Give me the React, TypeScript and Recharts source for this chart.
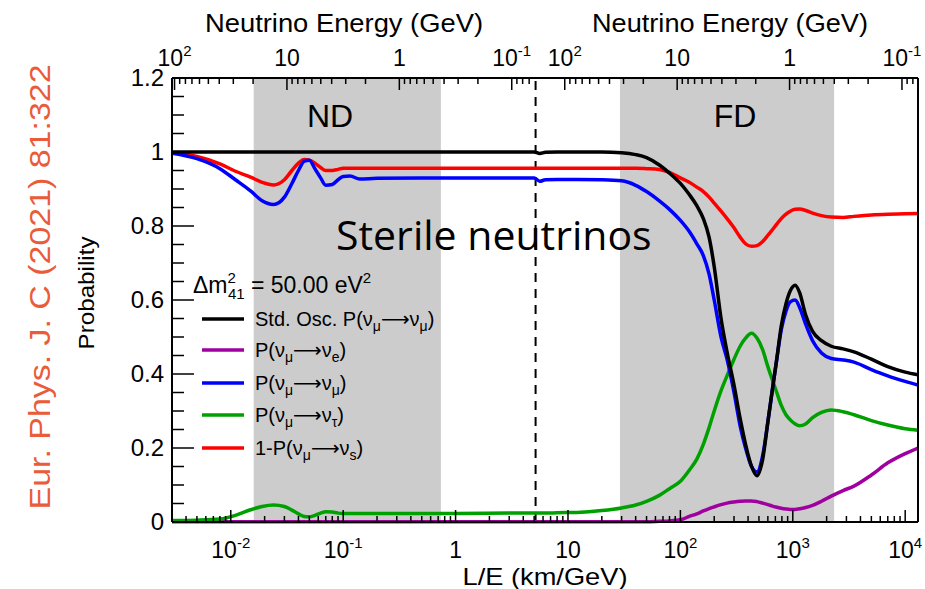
import React from 'react';
import { LineChart, Line, XAxis, YAxis, ReferenceArea, ReferenceLine } from 'recharts';

// L/E sample points (km/GeV) and the probabilities
const LE = [
  0.003, 0.005, 0.008, 0.011, 0.015, 0.019, 0.024, 0.03, 0.035, 0.04, 0.045, 0.05, 0.056, 0.063, 0.07, 0.08, 0.09,
  0.1, 0.115, 0.14, 0.2, 0.5, 1, 3, 5, 5.6, 6.3, 8, 12, 20, 30, 40, 50, 65, 80, 100, 120, 140, 160, 180, 200, 230,
  260, 300, 340, 380, 430, 480, 540, 600, 660, 720, 790, 870, 950, 1050, 1150, 1300, 1500, 1800, 2200, 2800, 3500,
  5000, 7000, 10000, 13000,
];
const stdOsc = [
  1, 1, 1, 1, 1, 1, 1, 1, 1, 1, 1, 1, 1, 1, 1, 1, 1,
  1, 1, 1, 1, 1, 1, 1, 1, 0.996, 0.999, 1, 1, 1, 0.998, 0.993, 0.985, 0.965, 0.943, 0.915, 0.885, 0.855, 0.82, 0.77, 0.69, 0.55,
  0.46, 0.37, 0.28, 0.21, 0.15, 0.125, 0.17, 0.27, 0.36, 0.44, 0.53, 0.59, 0.625, 0.64, 0.62, 0.56, 0.515, 0.49, 0.475, 0.468, 0.46,
  0.44, 0.42, 0.405, 0.398,
];
const pMuE = [
  0.001, 0.001, 0.001, 0.001, 0.001, 0.001, 0.001, 0.001, 0.001, 0.001, 0.001, 0.001, 0.001, 0.001, 0.001, 0.001, 0.001,
  0.001, 0.001, 0.001, 0.001, 0.001, 0.001, 0.001, 0.001, 0.001, 0.001, 0.001, 0.001, 0.001, 0.001, 0.001, 0.001, 0.002, 0.003, 0.006, 0.015, 0.022, 0.03, 0.036, 0.041, 0.047,
  0.051, 0.054, 0.056, 0.057, 0.057, 0.055, 0.051, 0.047, 0.043, 0.04, 0.037, 0.035, 0.034, 0.034, 0.036, 0.039, 0.045, 0.056, 0.07, 0.085, 0.097,
  0.127, 0.16, 0.185, 0.2,
];
const pMuMu = [
  0.997, 0.982, 0.955, 0.925, 0.895, 0.868, 0.858, 0.878, 0.915, 0.95, 0.975, 0.978, 0.955, 0.93, 0.91, 0.912, 0.925,
  0.934, 0.935, 0.927, 0.929, 0.93, 0.93, 0.93, 0.93, 0.921, 0.925, 0.926, 0.926, 0.925, 0.922, 0.91, 0.893, 0.868, 0.845, 0.815, 0.785, 0.752, 0.72, 0.67, 0.6, 0.5,
  0.44, 0.35, 0.26, 0.2, 0.15, 0.135, 0.18, 0.27, 0.36, 0.44, 0.52, 0.57, 0.595, 0.6, 0.58, 0.535, 0.49, 0.457, 0.442, 0.438, 0.432,
  0.412, 0.395, 0.38, 0.37,
];
const pMuTau = [
  0.004, 0.005, 0.008, 0.018, 0.033, 0.042, 0.046, 0.042, 0.032, 0.022, 0.015, 0.014, 0.018, 0.024, 0.028, 0.027, 0.024,
  0.023, 0.023, 0.023, 0.023, 0.023, 0.023, 0.024, 0.024, 0.024, 0.024, 0.025, 0.026, 0.031, 0.038, 0.046, 0.056, 0.072, 0.09, 0.11, 0.14, 0.17, 0.21, 0.255, 0.3, 0.355,
  0.395, 0.44, 0.475, 0.497, 0.51, 0.497, 0.465, 0.42, 0.383, 0.35, 0.315, 0.29, 0.276, 0.265, 0.26, 0.265, 0.282, 0.296, 0.303, 0.298, 0.29,
  0.274, 0.262, 0.252, 0.248,
];
const oneMinusPs = [
  0.998, 0.988, 0.968, 0.948, 0.932, 0.918, 0.911, 0.925, 0.95, 0.97, 0.98, 0.978, 0.97, 0.958, 0.95, 0.95, 0.953,
  0.956, 0.956, 0.956, 0.956, 0.956, 0.956, 0.956, 0.956, 0.956, 0.956, 0.956, 0.956, 0.956, 0.956, 0.956, 0.955, 0.953, 0.945, 0.93, 0.918, 0.905, 0.893, 0.878, 0.862, 0.84,
  0.82, 0.795, 0.77, 0.752, 0.745, 0.747, 0.758, 0.775, 0.79, 0.805, 0.82, 0.832, 0.84, 0.845, 0.846, 0.842, 0.835, 0.828, 0.824, 0.823, 0.826,
  0.83, 0.832, 0.833, 0.834,
];

const BOTTOM_TICKS = [
  0.003, 0.004, 0.005, 0.006, 0.007, 0.008, 0.009,
  0.01, 0.02, 0.03, 0.04, 0.05, 0.06, 0.07, 0.08, 0.09,
  0.1, 0.2, 0.3, 0.4, 0.5, 0.6, 0.7, 0.8, 0.9,
  1, 2, 3, 4, 5, 6, 7, 8, 9,
  10, 20, 30, 40, 50, 60, 70, 80, 90,
  100, 200, 300, 400, 500, 600, 700, 800, 900,
  1000, 2000, 3000, 4000, 5000, 6000, 7000, 8000, 9000,
  10000,
];
const ENERGIES = [
  100, 90, 80, 70, 60, 50, 40, 30, 20,
  10, 9, 8, 7, 6, 5, 4, 3, 2,
  1, 0.9, 0.8, 0.7, 0.6, 0.5, 0.4, 0.3, 0.2,
  0.1, 0.09, 0.08, 0.07,
];
const Y_TICKS = [
  0, 0.05, 0.1, 0.15, 0.2, 0.25, 0.3, 0.35, 0.4, 0.45, 0.5, 0.55, 0.6,
  0.65, 0.7, 0.75, 0.8, 0.85, 0.9, 0.95, 1, 1.05, 1.1, 1.15, 1.2,
];

const L_ND = 0.316; // km
const L_FD = 936; // km
const DASH = 5.15;
const X_MIN = 0.003;
const X_MAX = 13000;
const ND_BAND = [0.016, 0.74];
const FD_BAND = [29, 2330];

const data = LE.map((le, i) => ({
  le,
  std: stdOsc[i],
  mue: pMuE[i],
  mumu: pMuMu[i],
  mutau: pMuTau[i],
  ps: oneMinusPs[i],
}));

const TOP_TICKS = [
  ...ENERGIES.map((e) => L_ND / e).filter((v) => v >= X_MIN && v < DASH),
  ...ENERGIES.map((e) => L_FD / e).filter((v) => v > DASH && v <= X_MAX),
];

const FONT = 'Liberation Sans, Arial, Helvetica, sans-serif';
const isPow10 = (v: number) => {
  const e = Math.log10(v);
  return Math.abs(e - Math.round(e)) < 1e-6;
};

function PowText({ x, y, exp }: { x: number; y: number; exp: number }) {
  if (exp === 0 || exp === 1) {
    return (
      <text x={x} y={y} textAnchor="middle" fontFamily={FONT} fontSize={23} fill="#000">
        {exp === 0 ? '1' : '10'}
      </text>
    );
  }
  return (
    <text x={x} y={y} textAnchor="middle" fontFamily={FONT} fontSize={23} fill="#000">
      <tspan>10</tspan>
      <tspan dy={-10} fontSize={15}>{String(exp)}</tspan>
    </text>
  );
}

const BottomTick = (props: any) => {
  const { x, y, payload } = props;
  const major = isPow10(payload.value);
  return (
    <g>
      <line x1={x} x2={x} y1={y} y2={y - (major ? 12 : 6)} stroke="#000" strokeWidth={1.5} />
      {major && <PowText x={x} y={y + 36} exp={Math.round(Math.log10(payload.value))} />}
    </g>
  );
};

const TopTick = (props: any) => {
  const { x, y, payload } = props;
  const e = payload.value < DASH ? L_ND / payload.value : L_FD / payload.value;
  const major = isPow10(e);
  return (
    <g>
      <line x1={x} x2={x} y1={y} y2={y + (major ? 12 : 6)} stroke="#000" strokeWidth={1.5} />
      {major && <PowText x={x} y={y - 12} exp={Math.round(Math.log10(e))} />}
    </g>
  );
};

const yMajor = (v: number) => Math.abs(v * 5 - Math.round(v * 5)) < 1e-6;

const LeftTick = (props: any) => {
  const { x, y, payload } = props;
  const v = payload.value;
  const major = yMajor(v);
  const label = v === 0 ? '0' : v === 1 ? '1' : String(Math.round(v * 10) / 10);
  return (
    <g>
      <line x1={x} x2={x + (major ? 22 : 12)} y1={y} y2={y} stroke="#000" strokeWidth={1.5} />
      {major && (
        <text x={x - 8} y={y + 8} textAnchor="end" fontFamily={FONT} fontSize={24} fill="#000">
          {label}
        </text>
      )}
    </g>
  );
};

const RightTick = (props: any) => {
  const { x, y, payload } = props;
  const major = yMajor(payload.value);
  return <line x1={x} x2={x - (major ? 22 : 12)} y1={y} y2={y} stroke="#000" strokeWidth={1.5} />;
};

const LEGEND = [
  { color: '#000000', y: 319, pre: 'Std. Osc. P(ν', to: 'μ' },
  { color: '#a000a0', y: 350, pre: 'P(ν', to: 'e' },
  { color: '#0000ff', y: 383, pre: 'P(ν', to: 'μ' },
  { color: '#00a000', y: 415, pre: 'P(ν', to: 'τ' },
  { color: '#ff0000', y: 448, pre: '1-P(ν', to: 's' },
];

export default function App() {
  return (
    <div style={{ position: 'absolute', left: 0, top: 0, width: 925, height: 589, background: '#fff' }}>
      <LineChart width={925} height={589} data={data} margin={{ top: 77, right: 6, bottom: 66, left: 171 }}>
        <ReferenceArea x1={ND_BAND[0]} x2={ND_BAND[1]} fill="#cccccc" fillOpacity={1} stroke="none" ifOverflow="hidden" />
        <ReferenceArea x1={FD_BAND[0]} x2={FD_BAND[1]} fill="#cccccc" fillOpacity={1} stroke="none" ifOverflow="hidden" />
        <ReferenceLine x={DASH} stroke="#000" strokeWidth={2} strokeDasharray="9 7" />
        <XAxis
          dataKey="le"
          type="number"
          scale="log"
          domain={[X_MIN, X_MAX]}
          allowDataOverflow
          ticks={BOTTOM_TICKS}
          interval={0}
          height={1}
          tickSize={0}
          tickMargin={0}
          tickLine={false}
          axisLine={{ stroke: '#000', strokeWidth: 2 }}
          tick={BottomTick}
        />
        <XAxis
          xAxisId="top"
          orientation="top"
          dataKey="le"
          type="number"
          scale="log"
          domain={[X_MIN, X_MAX]}
          allowDataOverflow
          ticks={TOP_TICKS}
          interval={0}
          height={1}
          tickSize={0}
          tickMargin={0}
          tickLine={false}
          axisLine={{ stroke: '#000', strokeWidth: 2 }}
          tick={TopTick}
        />
        <YAxis
          type="number"
          domain={[0, 1.2]}
          ticks={Y_TICKS}
          interval={0}
          width={1}
          tickSize={0}
          tickMargin={0}
          tickLine={false}
          axisLine={{ stroke: '#000', strokeWidth: 2 }}
          tick={LeftTick}
        />
        <YAxis
          yAxisId="right"
          orientation="right"
          type="number"
          domain={[0, 1.2]}
          ticks={Y_TICKS}
          interval={0}
          width={1}
          tickSize={0}
          tickMargin={0}
          tickLine={false}
          axisLine={{ stroke: '#000', strokeWidth: 2 }}
          tick={RightTick}
        />
        <Line type="monotone" dataKey="mue" stroke="#a000a0" strokeWidth={3.5} dot={false} isAnimationActive={false} />
        <Line type="monotone" dataKey="mutau" stroke="#00a000" strokeWidth={3.5} dot={false} isAnimationActive={false} />
        <Line type="monotone" dataKey="ps" stroke="#ff0000" strokeWidth={3.5} dot={false} isAnimationActive={false} />
        <Line type="monotone" dataKey="mumu" stroke="#0000ff" strokeWidth={3.5} dot={false} isAnimationActive={false} />
        <Line type="monotone" dataKey="std" stroke="#000000" strokeWidth={3.5} dot={false} isAnimationActive={false} />
      </LineChart>

      <svg width={925} height={589} style={{ position: 'absolute', left: 0, top: 0, pointerEvents: 'none' }}>
        <g fontFamily={FONT} fill="#000">
          <text x={344} y={32} textAnchor="middle" fontSize={25} textLength={278} lengthAdjust="spacingAndGlyphs">
            Neutrino Energy (GeV)
          </text>
          <text x={730} y={32} textAnchor="middle" fontSize={25} textLength={276} lengthAdjust="spacingAndGlyphs">
            Neutrino Energy (GeV)
          </text>
          <text x={545} y={585} textAnchor="middle" fontSize={24} textLength={165} lengthAdjust="spacingAndGlyphs">
            L/E (km/GeV)
          </text>
          <text
            transform="translate(94, 293) rotate(-90)"
            textAnchor="middle"
            fontSize={22}
            textLength={113}
            lengthAdjust="spacingAndGlyphs"
          >
            Probability
          </text>
          <text x={330} y={127} textAnchor="middle" fontSize={32}>ND</text>
          <text x={735} y={127} textAnchor="middle" fontSize={32}>FD</text>
          <text x={336} y={250} fontFamily="Open Sans, Noto Sans, sans-serif" fontSize={41}>
            Sterile neutrinos
          </text>
          <text x={193} y={293} fontSize={23}>
            <tspan>Δm</tspan>
            <tspan dy={-10} fontSize={15}>2</tspan>
            <tspan dx={-8} dy={16} fontSize={15}>41</tspan>
            <tspan dy={-6}> = 50.00 eV</tspan>
            <tspan dy={-10} fontSize={15}>2</tspan>
          </text>
          {LEGEND.map((row) => (
            <g key={row.color}>
              <line x1={202} x2={244} y1={row.y} y2={row.y} stroke={row.color} strokeWidth={3.5} />
              <text x={255} y={row.y + 7} fontSize={20}>
                <tspan>{row.pre}</tspan>
                <tspan dy={5} fontSize={14}>μ</tspan>
                <tspan dy={-5} fontFamily="DejaVu Sans, sans-serif">⟶</tspan>
                <tspan>ν</tspan>
                <tspan dy={5} fontSize={14}>{row.to}</tspan>
                <tspan dy={-5}>)</tspan>
              </text>
            </g>
          ))}
        </g>
        <text
          transform="translate(50, 287) rotate(-90)"
          textAnchor="middle"
          fontFamily={FONT}
          fontSize={30}
          fill="#ea5b3a"
          textLength={445}
          lengthAdjust="spacingAndGlyphs"
        >
          Eur. Phys. J. C (2021) 81:322
        </text>
      </svg>
    </div>
  );
}
